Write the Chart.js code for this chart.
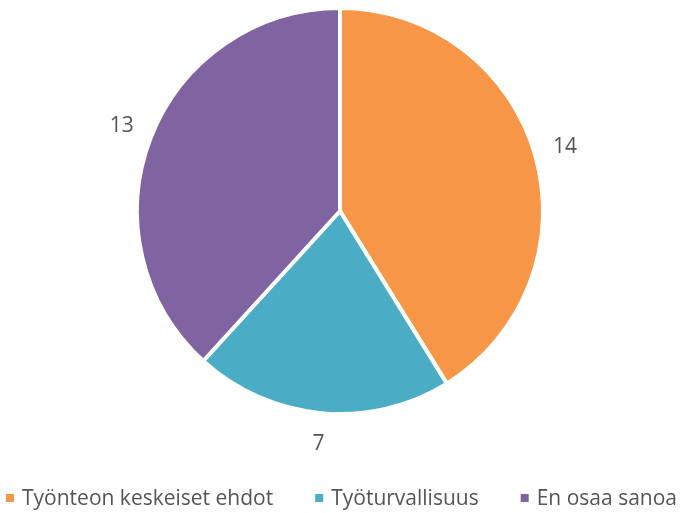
<!DOCTYPE html>
<html lang="fi">
<head>
<meta charset="utf-8">
<title>Piirakka</title>
<script src="https://cdn.jsdelivr.net/npm/chart.js@4.4.1/dist/chart.umd.min.js"></script>
<style>
    html, body { margin: 0; padding: 0; background: #fff; }
    #wrap { width: 683px; height: 513px; }
</style>
</head>
<body>
<div id="wrap"><canvas id="piirakka"></canvas></div>
<script>
const kategoriat = ["Työnteon keskeiset ehdot", "Työturvallisuus", "En osaa sanoa"];
const arvot = [14, 7, 13];
const varit = ["#F79646", "#4BACC6", "#8064A2"];

const tekstiVari = "#555555";
const fontti = "'Open Sans', 'DejaVu Sans', sans-serif";

// Arvot siivujen ulkopuolelle
const arvoTekstit = {
    id: "arvoTekstit",
    afterDatasetsDraw(chart) {
        const ctx = chart.ctx;
        const meta = chart.getDatasetMeta(0);
        ctx.save();
        ctx.fillStyle = tekstiVari;
        ctx.font = "21px " + fontti;
        ctx.textAlign = "center";
        ctx.textBaseline = "middle";
        meta.data.forEach((arc, i) => {
            const { x, y, startAngle, endAngle, outerRadius } = arc.getProps(["x", "y", "startAngle", "endAngle", "outerRadius"], true);
            const kulma = (startAngle + endAngle) / 2;
            const r = outerRadius + 31;
            ctx.fillText(String(arvot[i]), x + Math.cos(kulma) * r, y + Math.sin(kulma) * r);
        });
        ctx.restore();
    }
};

// Selite alareunaan (neliömerkit kuten Excelissä)
const selite = {
    id: "selite",
    afterDraw(chart) {
        const ctx = chart.ctx;
        const merkki = 8;
        const vali = 8;
        const rako = 42;
        const yKeski = 498;
        ctx.save();
        ctx.font = "21px " + fontti;
        ctx.textBaseline = "middle";
        const leveydet = kategoriat.map(k => ctx.measureText(k).width);
        const kokonais = leveydet.reduce((a, w) => a + merkki + vali + w, 0) + rako * (kategoriat.length - 1);
        let x = (chart.width - kokonais) / 2;
        kategoriat.forEach((k, i) => {
            ctx.fillStyle = varit[i];
            ctx.fillRect(x, yKeski - merkki / 2, merkki, merkki);
            x += merkki + vali;
            ctx.fillStyle = tekstiVari;
            ctx.fillText(k, x, yKeski + 1);
            x += leveydet[i] + rako;
        });
        ctx.restore();
    }
};

new Chart(document.getElementById("piirakka").getContext("2d"), {
    type: "pie",
    data: {
        labels: kategoriat,
        datasets: [{
            data: arvot,
            backgroundColor: varit,
            borderColor: "#ffffff",
            borderWidth: 4,
            hoverOffset: 0
        }]
    },
    options: {
        responsive: true,
        maintainAspectRatio: false,
        animation: false,
        layout: { padding: { top: 6, bottom: 97, left: 0, right: 3 } },
        plugins: {
            legend: { display: false },
            tooltip: { enabled: false }
        }
    },
    plugins: [arvoTekstit, selite]
});
</script>
</body>
</html>
